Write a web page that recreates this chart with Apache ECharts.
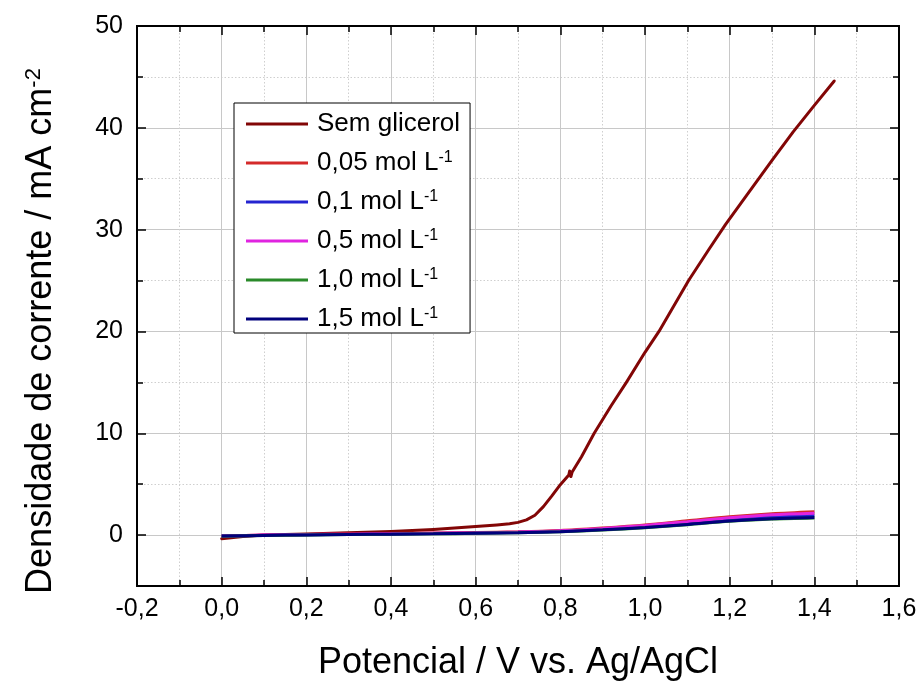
<!DOCTYPE html>
<html>
<head>
<meta charset="utf-8">
<script src="https://cdn.jsdelivr.net/npm/echarts@6/dist/echarts.min.js"></script>
<style>
html,body{margin:0;padding:0;background:#fff;}
#chart{width:922px;height:686px;}
</style>
</head>
<body>
<div id="chart"></div>
<script>
// ---- data ----
const seriesNames = ['Sem glicerol', '0,05 mol L-1', '0,1 mol L-1', '0,5 mol L-1', '1,0 mol L-1', '1,5 mol L-1'];
const seriesColors = ['#820606', '#d42a2a', '#2424d0', '#e024e0', '#2a8a2a', '#00007c'];

const potentialSem = [0.00, 0.05, 0.10, 0.20, 0.30, 0.40, 0.50, 0.60, 0.65, 0.68, 0.70, 0.72, 0.74, 0.76, 0.78, 0.80, 0.82, 0.822, 0.825, 0.828, 0.85, 0.88, 0.92, 0.956, 1.00, 1.033, 1.103, 1.15, 1.19, 1.237, 1.30, 1.35, 1.40, 1.447];
const currentSem   = [-0.35, -0.15, 0.00, 0.10, 0.22, 0.35, 0.55, 0.84, 1.00, 1.12, 1.25, 1.50, 1.95, 2.80, 3.85, 4.95, 5.90, 6.30, 5.75, 6.20, 7.70, 10.0, 12.7, 15.0, 17.95, 20.0, 25.0, 28.0, 30.5, 33.2, 36.8, 39.6, 42.2, 44.6];

const potentialLow = [0.0, 0.1, 0.2, 0.3, 0.4, 0.5, 0.6, 0.7, 0.8, 0.9, 1.0, 1.1, 1.2, 1.3, 1.4];
const current005 = [-0.10, 0.00, 0.05, 0.10, 0.15, 0.20, 0.25, 0.32, 0.45, 0.70, 1.00, 1.40, 1.80, 2.10, 2.30];
const current01  = [-0.10, -0.02, 0.03, 0.07, 0.10, 0.15, 0.20, 0.27, 0.38, 0.58, 0.85, 1.20, 1.55, 1.80, 1.95];
const current05  = [-0.10, 0.00, 0.05, 0.09, 0.13, 0.18, 0.23, 0.30, 0.42, 0.65, 0.95, 1.32, 1.70, 2.00, 2.15];
const current10  = [-0.12, -0.04, 0.01, 0.05, 0.08, 0.12, 0.17, 0.23, 0.33, 0.50, 0.72, 1.02, 1.35, 1.58, 1.68];
const current15  = [-0.10, -0.03, 0.02, 0.06, 0.09, 0.13, 0.18, 0.24, 0.34, 0.52, 0.75, 1.05, 1.38, 1.60, 1.72];

const xTickMin = -0.2, xTickMax = 1.6, xTickStep = 0.2;
const yMin = -5, yMax = 50, yMinorStep = 5;
const yTickValues = [0, 10, 20, 30, 40, 50];

function pairs(xs, ys) { return xs.map((x, i) => [x, ys[i]]); }

const lowSets = [current005, current01, current05, current10, current15];

const FONT = "'Liberation Sans', Arial, sans-serif";
const chart = echarts.init(document.getElementById('chart'), null, { renderer: 'canvas' });

const series = [{
  name: seriesNames[0],
  type: 'line',
  data: pairs(potentialSem, currentSem),
  showSymbol: false, symbol: 'none',
  xAxisIndex: 0, yAxisIndex: 1,
  lineStyle: { color: seriesColors[0], width: 3, join: 'round', cap: 'round' },
  itemStyle: { color: seriesColors[0] },
  z: 3
}];
lowSets.forEach((arr, i) => {
  series.push({
    name: seriesNames[i + 1],
    type: 'line',
    data: pairs(potentialLow, arr),
    showSymbol: false, symbol: 'none', smooth: 0.3,
    xAxisIndex: 0, yAxisIndex: 1,
    lineStyle: { color: seriesColors[i + 1], width: 3 },
    itemStyle: { color: seriesColors[i + 1] },
    z: 4 + i
  });
});

const axisLineStyle = { show: true, onZero: false, lineStyle: { color: '#000', width: 2 } };
const minorSplit = { show: true, lineStyle: { color: '#cfcfcf', width: 1, type: [1.5, 2] } };

const option = {
  animation: false,
  backgroundColor: '#fff',
  grid: { left: 137, right: 23, top: 26, bottom: 93, containLabel: false },
  legend: {
    orient: 'vertical',
    left: 234, top: 103,
    data: seriesNames,
    icon: 'rect',
    itemWidth: 62, itemHeight: 3,
    itemGap: 13,
    padding: [8, 10, 1, 12],
    borderColor: '#000', borderWidth: 1,
    backgroundColor: '#fff',
    formatter: function (name) { return name.replace(/L-1$/, 'L{sup|-1}'); },
    textStyle: {
      fontFamily: FONT, fontSize: 26, color: '#000', lineHeight: 26, padding: [0, 0, 0, 4],
      rich: { sup: { fontFamily: FONT, fontSize: 16, color: '#000', lineHeight: 10, verticalAlign: 'top' } }
    }
  },
  xAxis: [{
    type: 'value', position: 'bottom',
    min: xTickMin, max: xTickMax, interval: xTickStep,
    axisLine: axisLineStyle,
    axisTick: { show: true, inside: true, length: 9, lineStyle: { color: '#000', width: 1.5 } },
    minorTick: { show: true, splitNumber: 2, length: 6, lineStyle: { color: '#000', width: 1.5 } },
    splitLine: { show: true, lineStyle: { color: '#c8c8c8', width: 1 } },
    minorSplitLine: minorSplit,
    axisLabel: {
      show: true, margin: 11, fontFamily: FONT, fontSize: 25, color: '#000',
      formatter: v => v.toFixed(1).replace('.', ',')
    },
    name: 'Potencial / V vs. Ag/AgCl',
    nameLocation: 'middle', nameGap: 59,
    nameTextStyle: { fontFamily: FONT, fontSize: 36, color: '#000' }
  }, {
    type: 'value', position: 'top',
    min: xTickMin, max: xTickMax, interval: xTickStep,
    axisLine: axisLineStyle,
    axisTick: { show: true, inside: true, length: 9, lineStyle: { color: '#000', width: 1.5 } },
    minorTick: { show: true, splitNumber: 2, length: 6, lineStyle: { color: '#000', width: 1.5 } },
    splitLine: { show: false },
    axisLabel: { show: false }
  }],
  yAxis: [{
    type: 'value', position: 'left',
    min: yMin, max: yMax, interval: yMinorStep,
    axisLine: axisLineStyle,
    axisTick: { show: true, inside: true, length: 6, lineStyle: { color: '#000', width: 1.5 } },
    splitLine: minorSplit,
    axisLabel: { show: false }
  }, {
    type: 'value', position: 'left',
    min: yMin, max: yMax,
    axisLine: axisLineStyle,
    axisTick: { show: true, inside: true, length: 9, customValues: yTickValues, lineStyle: { color: '#000', width: 1.5 } },
    splitLine: { show: true, lineStyle: { color: '#c8c8c8', width: 1 } },
    axisLabel: { show: true, customValues: yTickValues, margin: 14, fontFamily: FONT, fontSize: 25, color: '#000' },
    name: 'Densidade de corrente / mA cm{sup|-2}',
    nameLocation: 'middle', nameRotate: 90, nameGap: 78,
    nameTextStyle: {
      fontFamily: FONT, fontSize: 36, color: '#000', lineHeight: 36, padding: [0, 50, 0, 0],
      rich: { sup: { fontFamily: FONT, fontSize: 22, color: '#000', lineHeight: 14, verticalAlign: 'top' } }
    }
  }, {
    type: 'value', position: 'right',
    min: yMin, max: yMax, interval: yMinorStep,
    axisLine: axisLineStyle,
    axisTick: { show: true, inside: true, length: 6, lineStyle: { color: '#000', width: 1.5 } },
    splitLine: { show: false },
    axisLabel: { show: false }
  }, {
    type: 'value', position: 'right',
    min: yMin, max: yMax,
    axisLine: axisLineStyle,
    axisTick: { show: true, inside: true, length: 9, customValues: yTickValues, lineStyle: { color: '#000', width: 1.5 } },
    splitLine: { show: false },
    axisLabel: { show: false }
  }],
  series: series
};
chart.setOption(option);
</script>
</body>
</html>
